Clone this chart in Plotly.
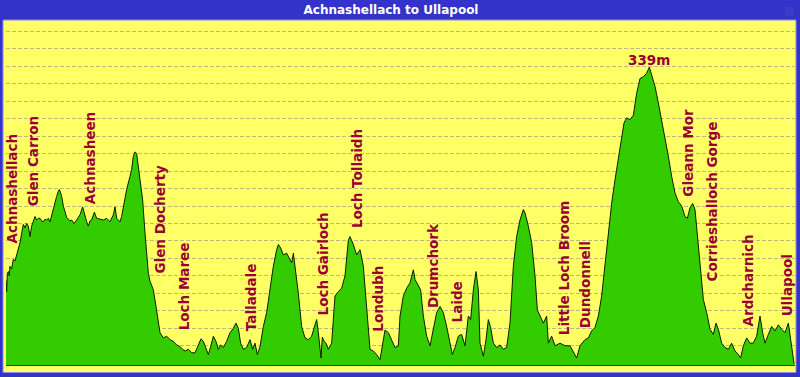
import plotly.graph_objects as go

title_text = "Achnashellach to Ullapool"

dist_km = [
    0.0, 0.13, 0.27, 0.47, 0.67, 0.8, 1.13, 1.47, 1.8, 2.13, 2.47, 2.8, 3.13, 3.47, 3.8, 4.13, 4.47, 4.8,
    5.13, 5.47, 5.8, 6.13, 6.47, 6.8, 7.13, 7.47, 7.8, 8.13, 8.47, 8.8, 9.13, 9.47, 9.8, 10.13, 10.47,
    10.67, 10.93, 11.13, 11.47, 11.8, 12.13, 12.47, 12.8, 13.13, 13.6, 14.13, 14.8, 15.33, 15.8, 16.13,
    16.47, 16.8, 17.13, 17.67, 18.13, 18.8, 19.47, 20.13, 20.8, 21.47, 21.8, 22.13, 22.8, 23.13, 23.47,
    24.13, 24.8, 25.13, 25.47, 25.8, 26.13, 26.47, 26.8, 27.33, 27.8, 28.13, 28.47, 28.8, 29.47, 30.0,
    30.47, 30.8, 31.47, 32.13, 32.8, 33.47, 34.13, 34.8, 35.33, 35.8, 36.47, 37.13, 37.8, 38.47, 39.0,
    39.47, 40.0, 40.47, 40.93, 41.47, 42.0, 42.47, 42.93, 43.47, 44.13, 44.8, 45.47, 46.0, 46.47, 46.93,
    47.47, 48.13, 48.8, 49.33, 49.8, 50.27, 50.8, 51.47, 52.13, 52.8, 53.47, 54.13, 54.47, 54.93, 55.47,
    56.13, 56.67, 57.13, 57.47, 57.8, 58.47, 59.13, 59.8, 60.47, 61.13, 61.8, 62.13, 62.47, 62.8, 63.0,
    63.27, 63.6, 64.0, 64.47, 65.13, 65.8, 66.47, 67.13, 67.8, 68.47, 68.8, 69.47, 70.13, 70.8, 71.47,
    72.13, 72.8, 73.47, 74.13, 74.8, 75.47, 75.8, 76.47, 77.13, 77.8, 78.47,
    78.8, 79.47, 80.13, 80.8, 81.47, 81.8, 82.47, 82.93, 83.47, 84.13, 84.8, 85.47, 86.13, 86.8, 87.47,
    88.13, 88.8, 89.27, 89.8, 90.47, 91.13, 91.8, 92.47, 92.93, 93.47, 94.0, 94.47, 94.8, 95.47, 96.0,
    96.47, 96.93, 97.47, 98.13, 98.8, 99.47, 100.13, 100.8, 101.47, 102.13, 102.8, 103.47, 103.8, 104.47,
    105.13, 105.8, 106.27, 106.8, 107.47, 108.13, 108.47, 109.13, 109.8, 110.8, 111.8, 112.8, 113.47,
    114.13, 114.8, 115.8, 116.47, 117.13, 117.8, 118.47, 119.13, 119.8, 120.47, 121.13, 121.8, 122.47,
    123.13, 123.6, 124.13, 124.8, 125.47, 126.13, 126.8, 127.47, 128.13, 128.67, 129.13, 129.8, 130.47,
    131.13, 131.8, 132.47, 133.13, 133.8, 134.47, 135.13, 135.8, 136.27, 136.8, 137.33, 137.8, 138.33,
    138.8, 139.47, 140.13, 140.8, 141.47, 142.0, 142.47, 143.13, 143.8, 144.47, 145.13, 145.8, 146.47,
    146.93, 147.47, 148.13, 148.8, 149.47, 150.13, 150.8, 151.33, 151.8, 152.47, 153.13, 153.8, 154.47,
    155.13, 155.8, 156.47, 156.93, 157.33, 157.6,
]

elev_m = [
    95, 82, 103, 105, 100, 111, 108, 119, 117, 124, 130, 138, 149, 159, 155, 160, 157, 145,
    157, 164, 168, 164, 166, 166, 163, 162, 165, 164, 166, 162, 170, 176, 183, 191, 197,
    199, 195, 191, 180, 172, 167, 165, 163, 164, 160, 164, 170, 179, 167, 162,
    157, 163, 164, 173, 166, 165, 164, 166, 162, 170, 179, 166, 162, 168, 180,
    199, 214, 222, 237, 242, 240, 225, 212, 187, 149, 126, 103, 94, 84, 65,
    46, 35, 29, 31, 27, 25, 21, 19, 16, 14, 16, 12, 12, 21, 28,
    25, 16, 10, 19, 31, 25, 16, 21, 18, 25, 35, 40, 46, 40, 23,
    16, 18, 27, 16, 23, 10, 19, 42, 58, 84, 111, 130, 136, 132, 124,
    126, 120, 115, 126, 111, 80, 42, 29, 27, 31, 44, 50, 35, 19, 6,
    30, 25, 23, 16, 23, 77, 82, 86, 100, 141, 145, 136, 124, 130, 111,
    65, 16, 14, 10, 4, 27, 38, 35, 27, 18, 20,
    54, 77, 86, 92, 107, 96, 88, 84, 54, 31, 20, 39, 58, 65, 58,
    42, 23, 10, 18, 31, 33, 20, 54, 50, 84, 105, 84, 23, 8, 27,
    50, 41, 23, 18, 21, 16, 18, 46, 111, 145, 164, 176, 172, 157,
    138, 100, 61, 54, 46, 54, 23, 31, 20, 23, 20, 20, 12,
    6, 20, 27, 29, 37, 41, 54, 77, 115, 149, 183, 210, 233,
    260, 275, 281, 279, 284, 309, 326, 328, 332, 339, 330, 317, 298,
    279, 260, 237, 214, 195, 185, 180, 168, 166, 178, 183, 176, 145,
    115, 73, 58, 39, 33, 46, 39, 23, 18, 16, 23, 14, 10,
    6, 20, 29, 23, 23, 31, 54, 35, 23, 33, 42, 37, 44,
    39, 35, 46, 27, 8, 0,
]

place_names = [
    "Achnashellach", "Glen Carron", "Achnasheen", "Glen Docherty", "Loch Maree", "Talladale",
    "Loch Gairloch", "Loch Tollaidh", "Londubh", "Drumchork", "Laide", "Little Loch Broom",
    "Dundonnell", "Gleann Mor", "Corrieshalloch Gorge", "Ardcharnich", "Ullapool",
]
place_km = [1.2, 5.3, 16.8, 30.8, 35.5, 48.9, 63.4, 70.2, 74.4, 85.3, 90.2, 111.6,
            115.7, 136.5, 141.1, 148.4, 156.1]

# height (m) at which each vertical label starts
label_base_m = [136, 178, 181, 101, 36, 35, 53, 153, 35, 62, 45, 31, 39, 189, 92, 41, 52]

BLUE = "#3333cc"
YELLOW = "#ffff66"
GREEN = "#33cc00"
LABEL = "#990033"
FONT = "DejaVu Sans"

W, H = 800, 377
ML, MR, MT, MB = 6, 5, 20, 11.5
y_floor, y_top = -2, 393
x_max = 157.8

fig = go.Figure()
fig.add_trace(go.Scatter(x=[0, x_max], y=[y_floor, y_floor], mode="lines",
                         line=dict(width=0), hoverinfo="skip", showlegend=False))
fig.add_trace(go.Scatter(x=dist_km, y=elev_m, mode="lines", fill="tonexty",
                         fillcolor=GREEN, line=dict(color="#0a1f00", width=1),
                         hoverinfo="skip", showlegend=False))

annotations = []
for name, km, base in zip(place_names, place_km, label_base_m):
    annotations.append(dict(x=km, y=base, xref="x", yref="y", text="<b>%s</b>" % name,
                            textangle=-90, showarrow=False, xanchor="center", yanchor="bottom",
                            borderpad=0,
                            font=dict(family=FONT, size=13.5, color=LABEL)))

i_max = max(range(len(elev_m)), key=lambda i: elev_m[i])
annotations.append(dict(x=dist_km[i_max], y=elev_m[i_max], xref="x", yref="y",
                        text="<b>%dm</b>" % elev_m[i_max], showarrow=False,
                        xanchor="center", yanchor="bottom", yshift=-2, borderpad=0,
                        font=dict(family=FONT, size=13.5, color=LABEL)))

pw = W - ML - MR
ph = H - MT - MB
shapes = [
    dict(type="rect", xref="paper", yref="paper", layer="below",
         x0=-3 / pw, x1=(W - 4 - ML) / pw, y0=-(373 - (H - MB)) / ph, y1=1.0,
         fillcolor=YELLOW, line=dict(color="#8c8ce6", width=1)),
    dict(type="rect", xref="paper", yref="paper", layer="above",
         x0=(785 - ML) / pw, x1=(794 - ML) / pw, y0=(H - MB - 16) / ph, y1=(H - MB - 7) / ph,
         fillcolor="#3b3bc8", line=dict(width=0)),
]

fig.update_layout(
    width=W, height=H,
    margin=dict(l=ML, r=MR, t=MT, b=MB, pad=0),
    paper_bgcolor=BLUE, plot_bgcolor=YELLOW,
    title=dict(text="<b>%s</b>" % title_text, x=391 / W, xref="container", xanchor="center",
               y=1 - 9.5 / H, yref="container", yanchor="middle",
               font=dict(family=FONT, size=12, color="white")),
    xaxis=dict(range=[0, x_max], showgrid=False, zeroline=False, showticklabels=False,
               ticks="", showline=True, linecolor="#0a5a0a", linewidth=1, fixedrange=True),
    yaxis=dict(range=[y_floor, y_top], showgrid=True, gridcolor="#bcbc80", griddash="4px,2px",
               gridwidth=1, tick0=0, dtick=20, zeroline=False, showticklabels=False,
               ticks="", showline=False, fixedrange=True),
    annotations=annotations,
    shapes=shapes,
    showlegend=False,
)

fig.write_html("out.html", config={"displayModeBar": False},
               post_script="document.body.style.margin='0';document.body.style.overflow='hidden';")
